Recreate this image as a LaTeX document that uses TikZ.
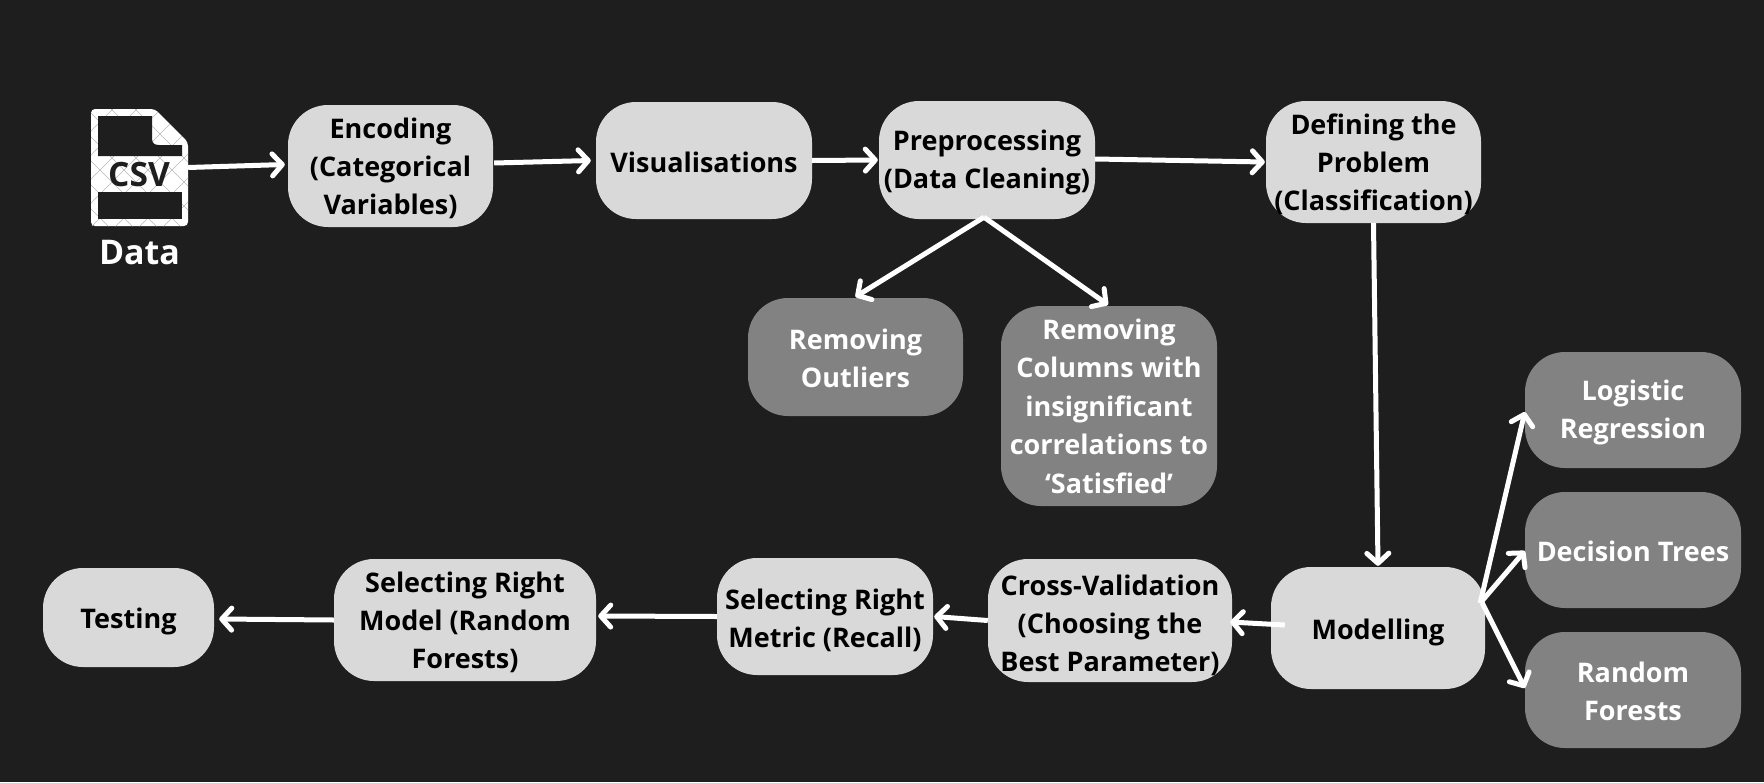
\documentclass[tikz,border=0pt]{standalone}
\usepackage{fontspec}
\setmainfont{Open Sans}
\usetikzlibrary{arrows.meta}
\definecolor{bgc}{HTML}{1E1E1E}
\definecolor{lightc}{HTML}{D9D9D9}
\definecolor{darkc}{HTML}{828282}
\newcommand{\ru}[1]{\rule{0pt}{#1pt}}
\tikzset{
  boxbase/.style={rounded corners=40pt,align=center,inner sep=0pt,font=\fontsize{27}{38}\selectfont\bfseries},
  lightbox/.style={boxbase,fill=lightc,text=black},
  darkbox/.style={boxbase,fill=darkc,text=white},
  conn/.style={draw=white,line width=5pt,-{Straight Barb[length=10pt,width=22pt,line width=5pt,round]}},
  sz/.style n args={2}{minimum width=#1pt,minimum height=#2pt},
}
\begin{document}
\begin{tikzpicture}[x=1pt,y=-1pt]
\useasboundingbox (0,0) rectangle (1764,782);
\fill[bgc] (0,0) rectangle (1764,782);
% CSV icon
\path[fill=white,rounded corners=4pt] (91,109) -- (155,109) -- (188,142) -- (188,226) -- (91,226) -- cycle;
\begin{scope}
\clip (91,109) -- (155,109) -- (188,142) -- (188,226) -- (91,226) -- cycle;
\foreach \k in {-6,...,12}{
  \draw[black!28,line width=.5pt] ({30+\k*24},100) -- ({30+\k*24+140},240);
  \draw[black!28,line width=.5pt] ({30+\k*24},240) -- ({30+\k*24+140},100);
}
\end{scope}
\fill[bgc] (98,116) -- (152,116) -- (152,138) .. controls (152,143) and (154,145) .. (159,145) -- (182,145) -- (182,156) -- (98,156) -- cycle;
\fill[bgc] (98,192) rectangle (182,219);
\node[minimum width=97pt,minimum height=117pt,inner sep=0pt] (csv) at (139.5,167.5) {};
\node[text=bgc,font=\fontsize{33.5}{33.5}\selectfont\bfseries,inner sep=0pt] (csvt) at (139,175) {CSV};
\node[text=white,font=\fontsize{34}{34}\selectfont\bfseries,inner sep=0pt] (data) at (139.5,253) {Data};
% light boxes
\node[lightbox,sz={205}{122}] (enc) at (390.5,166) {\ru{26}Encoding\\(Categorical\\Variables)};
\node[lightbox,sz={216}{117}] (vis) at (704,160.5) {\ru{25}Visualisations};
\node[lightbox,sz={216}{118}] (pre) at (987,160) {\ru{26}Preprocessing\\(Data Cleaning)};
\node[lightbox,sz={215}{122}] (def) at (1373.5,162) {\ru{26}Defining the\\Problem\\(Classification)};
\node[lightbox,sz={214}{122}] (mod) at (1378,628) {\ru{28.5}Modelling};
\node[lightbox,sz={244}{123}] (cv) at (1110,620.5) {\ru{30.5}Cross-Validation\\(Choosing the\\Best Parameter)};
\node[lightbox,sz={216}{117}] (met) at (825,616.5) {\ru{28.3}Selecting Right\\Metric (Recall)};
\node[lightbox,sz={262}{122}] (sel) at (465,620) {\ru{26}Selecting Right\\Model (Random\\Forests)};
\node[lightbox,sz={171}{99}] (tst) at (128.5,617.5) {\ru{27.5}Testing};
% dark boxes
\node[darkbox,sz={215}{118}] (out) at (855.5,357) {\ru{23.7}Removing\\Outliers};
\node[darkbox,sz={216}{200},font=\fontsize{27}{38.5}\selectfont\bfseries] (col) at (1109,406) {Removing\\Columns with\\insignificant\\correlations to\\‘Satisfied’};
\node[darkbox,sz={216}{116}] (log) at (1633,410) {\ru{26}Logistic\\Regression};
\node[darkbox,sz={216}{116}] (dec) at (1633,550) {\ru{24}Decision Trees};
\node[darkbox,sz={216}{116}] (ran) at (1633,690) {\ru{22.5}Random\\Forests};
% connectors
\draw[conn] (csv.east) -- ([xshift=-3pt,yshift=1.5pt]enc.west);
\draw[conn] ([xshift=1pt,yshift=3pt]enc.east) -- ([xshift=-5pt]vis.west);
\draw[conn] (vis.east) -- ([xshift=-1pt]pre.west);
\draw[conn] ([yshift=1pt]pre.east) -- ([xshift=-1pt]def.west);
\draw[conn] ([xshift=-3pt,yshift=2pt]pre.south) -- ([yshift=1pt]out.north);
\draw[conn] ([xshift=-3pt,yshift=2pt]pre.south) -- ([xshift=-1pt,yshift=1pt]col.north);
\draw[conn] (def.south) -- ([yshift=1pt]mod.north);
\draw[conn] ([xshift=-5pt,yshift=25pt]mod.east) -- ([yshift=-2pt]log.west);
\draw[conn] ([xshift=-5pt,yshift=25pt]mod.east) -- ([yshift=-1pt]dec.west);
\draw[conn] ([xshift=-3pt,yshift=25pt]mod.east) -- ([yshift=2pt]ran.west);
\draw[conn] ([xshift=14pt,yshift=3pt]mod.west) -- ([xshift=-2pt,yshift=-1.5pt]cv.east);
\draw[conn] (cv.west) -- ([xshift=1pt]met.east);
\draw[conn] (met.west) -- ([xshift=2pt,yshift=4pt]sel.east);
\draw[conn] (sel.west) -- ([xshift=5pt,yshift=-1.5pt]tst.east);
\end{tikzpicture}
\end{document}
